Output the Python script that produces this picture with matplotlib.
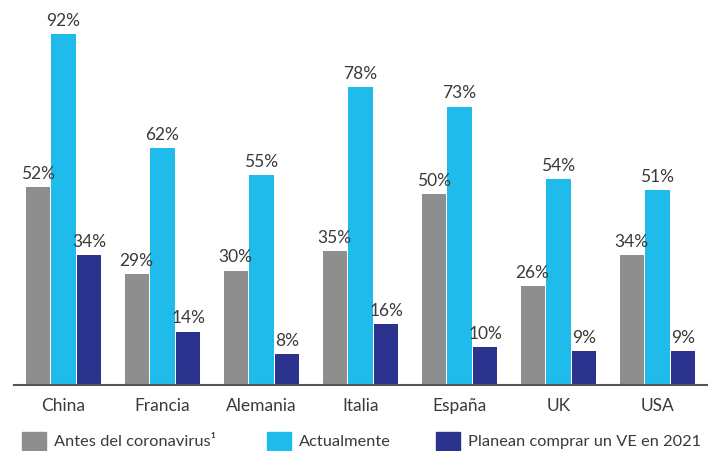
import matplotlib
matplotlib.use("Agg")
import matplotlib.pyplot as plt
from matplotlib.patches import Rectangle
import numpy as np

plt.rcParams["font.family"] = ["Lato", "DejaVu Sans"]

countries = ["China", "Francia", "Alemania", "Italia", "España", "UK", "USA"]
antes = [52, 29, 30, 35, 50, 26, 34]
actual = [92, 62, 55, 78, 73, 54, 51]
planean = [34, 14, 8, 16, 10, 9, 9]

series_names = ["Antes del coronavirus¹", "Actualmente", "Planean comprar un VE en 2021"]
colors = ["#8e8e8e", "#1fbbea", "#2b338f"]
text_color = "#3a3a3a"
fs = 12.5

W, H = 715, 452
fig = plt.figure(figsize=(W / 100, H / 100), dpi=100)
ax = fig.add_axes([14 / W, 1 - 386 / H, 693 / W, 376 / H])

x = np.arange(len(countries))
width = 0.243
step = 0.262
for i, (vals, col) in enumerate(zip([antes, actual, planean], colors)):
    bars = ax.bar(x + (i - 1) * step, vals, width=width, color=col)
    for b, v in zip(bars, vals):
        ax.text(b.get_x() + b.get_width() / 2, v + 1.6, f"{v}%",
                ha="center", va="bottom", fontsize=fs, color=text_color)

ax.set_xlim(-0.5, 6.5)
ax.set_ylim(0, 376 / 3.815)
ax.set_xticks(x)
ax.set_xticklabels(countries, fontsize=fs, color=text_color)
ax.tick_params(axis="x", length=0, pad=9)
ax.set_yticks([])
for s in ["top", "right", "left"]:
    ax.spines[s].set_visible(False)
ax.spines["bottom"].set_color("#555555")
ax.spines["bottom"].set_linewidth(1.5)

# legend drawn by hand: square swatch + label, pixel positions
swatch_x = [22, 267, 436]
label_x = [54, 299, 468]
for sx, lx, name, col in zip(swatch_x, label_x, series_names, colors):
    fig.patches.append(Rectangle((sx / W, 1 - 451 / H), 24 / W, 18 / H,
                                 transform=fig.transFigure, color=col))
    fig.text(lx / W, 1 - 442 / H, name, ha="left", va="center",
             fontsize=11.8, color=text_color)

fig.savefig("out.png", dpi=100, facecolor="white")
